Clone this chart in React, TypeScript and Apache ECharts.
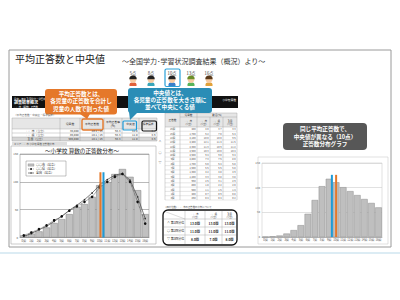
import React, { useEffect, useRef } from 'react';
import * as echarts from 'echarts';

const FONT = '"Noto Sans CJK JP", "Noto Sans", sans-serif';

// ---------- data ----------
const categories = ['0問', '1問', '2問', '3問', '4問', '5問', '6問', '7問', '8問', '9問', '10問', '11問', '12問', '13問', '14問', '15問', '16問'];
const cityCounts = [4, 7, 11, 18, 26, 33, 42, 55, 60, 73, 94, 100, 114, 123, 109, 85, 42];
const prefValues = [4, 9, 15, 22, 31, 38, 48, 56, 64, 73, 90, 100, 109, 114, 100, 64, 25];
const nationValues = [2, 7, 14, 20, 29, 38, 49, 58, 68, 80, 94, 104, 112, 115, 103, 73, 34];
const compareCounts = [0.5, 1.5, 3, 7, 14, 24, 47, 75, 103, 118, 111, 101, 93, 85, 77, 69, 60];
const leftMean = 10.6;
const leftMedian = 11.0;
const leftMarkTop = 117;
const rightMean = 10.5;
const rightMedian = 9.9;
const rightMarkTop = 126;

const scoreLabels = ['5点', '8点', '10点', '13点', '16点'];

const summaryHeaders = ['児童数', '平均正答数', '平均正答率\n(%)', '中央値', '標準偏差'];
const summaryRows = [
  ['○○市（公立）', '35,000', '10.1 / 16', '63.3', '11.0', '3.7'],
  ['○○県（公立）', '85,000', '10.1 / 16', '63.3', '11.0', '3.6'],
  ['全国（公立）', '985,000', '10.1 / 16', '63.3', '11.0', '3.6'],
];

const distLabels = ['16問', '15問', '14問', '13問', '12問', '11問', '10問', '9問', '8問', '7問', '6問', '5問', '4問', '3問', '2問', '1問', '0問'];
const distCounts = ['400', '1,700', '2,100', '2,400', '2,300', '2,500', '2,500', '2,800', '1,700', '1,500', '1,300', '1,200', '950', '800', '600', '400', '250'];
const distCity = ['4.0', '6.2', '10.0', '12.1', '11.3', '10.3', '9.4', '7.3', '6.0', '5.5', '4.2', '3.3', '2.6', '1.8', '1.1', '0.7', '0.4'];
const distPref = ['3.7', '7.0', '10.0', '11.4', '10.9', '10.0', '9.0', '7.6', '6.4', '5.6', '4.8', '3.8', '3.1', '2.2', '1.5', '0.9', '0.4'];
const distNation = ['3.3', '6.4', '9.6', '11.5', '11.2', '10.4', '9.4', '8.0', '6.8', '5.8', '4.9', '3.8', '2.9', '2.0', '1.4', '0.8', '0.2'];

const quartileLabels = ['∧ 第1四分位', '○ 第2四分位', '▽ 第3四分位'];
const quartileCity = ['13.0問', '11.0問', '8.0問'];
const quartilePref = ['13.0問', '11.0問', '7.0問'];
const quartileNation = ['13.0問', '11.0問', '8.0問'];

// ---------- helpers ----------
const ORANGE = '#e5782a';
const BLUE = '#1e9bd7';
const TEAL = '#2b8db6';

function txt(text: string, x: number, y: number, size: number, o: any = {}) {
  return {
    type: 'text',
    x,
    y,
    silent: true,
    z: o.z ?? 20,
    style: {
      text,
      fill: o.fill ?? '#222',
      fontSize: size,
      fontFamily: FONT,
      fontWeight: o.bold ? 'bold' : 'normal',
      textAlign: o.align ?? 'left',
      textVerticalAlign: 'middle',
      lineHeight: o.lh ?? size * 1.1,
    },
  };
}
function rect(x: number, y: number, w: number, h: number, style: any, r: any = 0, z = 5) {
  return { type: 'rect', silent: true, z, shape: { x, y, width: w, height: h, r }, style };
}
function line(x1: number, y1: number, x2: number, y2: number, stroke: string, lw = 0.4, z = 6, dash?: any) {
  return { type: 'line', silent: true, z, shape: { x1, y1, x2, y2 }, style: { stroke, lineWidth: lw, lineDash: dash } };
}

function buildGraphics() {
  const G: any[] = [];
  // slide frame and lines
  G.push(rect(9, 50, 382, 197, { fill: 'none', stroke: '#9a9a9a', lineWidth: 1 }, 0, 1));
  G.push(line(0, 253, 400, 253, '#b9d9ea', 1.2, 1));

  // titles
  G.push(txt('平均正答数と中央値', 15, 58, 10, { fill: '#222' }));
  G.push(txt('～全国学力･学習状況調査結果（概況）より～', 122, 60.5, 7, { fill: '#333' }));

  // kids
  const kx = [133, 151, 172, 191, 209];
  const hair = ['#222', '#222', '#222', '#6a8f2a', '#5a3a1a'];
  const shirt = ['#e0603a', '#3aa6b9', '#3a7fc9', '#58b45a', '#e2a23a'];
  kx.forEach((x, i) => {
    G.push(txt(scoreLabels[i], x, 72.5, 4.2, { align: 'center', fill: '#333' }));
    G.push({ type: 'rect', silent: true, z: 8, shape: { x: x - 3.5, y: 82.5, width: 7, height: 3.5, r: [2, 2, 0, 0] }, style: { fill: shirt[i] } });
    G.push({ type: 'circle', silent: true, z: 9, shape: { cx: x, cy: 79.5, r: 3.4 }, style: { fill: '#f6cba3' } });
    G.push({ type: 'sector', silent: true, z: 10, shape: { cx: x, cy: 79.3, r: 3.7, r0: 0, startAngle: Math.PI, endAngle: Math.PI * 2 }, style: { fill: hair[i] } });
    G.push({ type: 'circle', silent: true, z: 11, shape: { cx: x - 1.2, cy: 80.2, r: 0.4 }, style: { fill: '#222' } });
    G.push({ type: 'circle', silent: true, z: 11, shape: { cx: x + 1.2, cy: 80.2, r: 0.4 }, style: { fill: '#222' } });
  });
  G.push(rect(165, 69, 15, 17.5, { fill: 'none', stroke: '#29a0d8', lineWidth: 1.2 }, 1.5, 12));

  // black header strip
  G.push(rect(12, 96, 226, 12, { fill: '#111' }, 0, 3));
  G.push(txt('令和○年度 全国学力・学習状況調査', 14, 98.3, 2.4, { fill: '#fff', z: 4 }));
  G.push(txt('調査結果概況', 14, 102.3, 4, { fill: '#fff', bold: true, z: 4 }));
  G.push(txt('○○市（算数）正答数', 14, 106.3, 2.4, { fill: '#fff', z: 4 }));
  G.push(txt('小学校 算数', 236, 100, 2.6, { fill: '#fff', align: 'right', z: 4 }));
  G.push(txt('〈平均正答数・中央値・標準偏差〉', 14, 114.5, 2.6, { fill: '#666' }));

  // left summary table
  const cols = [12, 60, 80, 104, 122, 139, 157];
  const rowsY = [118, 129, 133, 137, 141];
  G.push(rect(12, 118, 145, 11, { fill: '#e6e6e6' }, 0, 4));
  G.push(rect(12, 137, 145, 4, { fill: '#d6d6d6' }, 0, 4));
  rowsY.forEach((y) => G.push(line(12, y, 157, y, '#999', 0.4)));
  cols.forEach((x) => G.push(line(x, 118, x, 141, '#999', 0.4)));
  summaryHeaders.forEach((h, i) => {
    G.push(txt(h, (cols[i + 1] + cols[i + 2]) / 2, 124, 2.8, { align: 'center', fill: '#333' }));
  });
  summaryRows.forEach((row, r) => {
    const cy = (rowsY[r + 1] + rowsY[r + 2]) / 2;
    row.forEach((v, c) => {
      if (c === 0) G.push(txt(v, 36, cy, 2.8, { align: 'center', fill: '#333' }));
      else G.push(txt(v, cols[c + 1] - 1.5, cy, 2.8, { align: 'right', fill: '#333' }));
    });
  });
  G.push(rect(12, 142, 55, 3.6, { fill: '#dedede' }, 0, 4));
  G.push(txt('エリア ○○市 小学校 算数 正答数分布', 14, 143.8, 2.4, { fill: '#555' }));
  // highlight boxes
  G.push(rect(82, 119, 21, 11, { fill: 'none', stroke: ORANGE, lineWidth: 1.4 }, 1.5, 15));
  G.push(rect(123, 121, 13.5, 9, { fill: 'none', stroke: BLUE, lineWidth: 1.2 }, 1, 15));
  G.push(rect(142, 121, 14.5, 10, { fill: 'none', stroke: '#111', lineWidth: 1.2 }, 1.5, 15));

  // callouts
  G.push(rect(45, 89, 72, 25.5, { fill: ORANGE }, 3, 16));
  G.push({ type: 'polygon', silent: true, z: 16, shape: { points: [[80, 114], [90, 114], [87, 119]] }, style: { fill: ORANGE } });
  G.push(txt('平均正答数とは、', 81, 93.5, 5.6, { fill: '#fff', bold: true, align: 'center', z: 17 }));
  G.push(txt('各児童の正答数を合計し', 81, 101.3, 5.6, { fill: '#fff', bold: true, align: 'center', z: 17 }));
  G.push(txt('児童の人数で割った値', 81, 108.8, 5.6, { fill: '#fff', bold: true, align: 'center', z: 17 }));

  G.push(rect(128, 88, 84, 25, { fill: TEAL }, 3, 16));
  G.push({ type: 'polygon', silent: true, z: 16, shape: { points: [[129, 112], [138, 112], [130, 120]] }, style: { fill: TEAL } });
  G.push(txt('中央値とは、', 170, 92.8, 5.6, { fill: '#fff', bold: true, align: 'center', z: 17 }));
  G.push(txt('各児童の正答数を大きさ順に', 170, 100, 5.6, { fill: '#fff', bold: true, align: 'center', z: 17 }));
  G.push(txt('並べて中央にくる値', 170, 107.2, 5.6, { fill: '#fff', bold: true, align: 'center', z: 17 }));

  // middle distribution table
  const mc = [165, 180, 197, 210, 223, 237];
  const top = 113, hdr = 127, bottom = 200;
  const rh = (bottom - hdr) / distLabels.length;
  G.push(rect(165, top, 72, hdr - top, { fill: '#e6e6e6' }, 0, 4));
  G.push(line(165, top, 237, top, '#999', 0.4));
  G.push(line(180, 117, 237, 117, '#999', 0.4));
  G.push(line(165, hdr, 237, hdr, '#999', 0.4));
  mc.forEach((x, i) => G.push(line(x, i === 3 || i === 4 ? 117 : top, x, bottom, '#999', 0.4)));
  G.push(txt('正答数', 172.5, 120, 2.6, { align: 'center', fill: '#333' }));
  G.push(txt('児童数', 188.5, 115, 2.6, { align: 'center', fill: '#333' }));
  G.push(txt('割合(%)', 217, 115, 2.6, { align: 'center', fill: '#333' }));
  const subs = ['○○市\n(公立)', '○○市\n(公立)', '○○県\n(公立)', '全国\n(公立)'];
  subs.forEach((s, i) => G.push(txt(s, (mc[i + 1] + mc[i + 2]) / 2, 122.3, 2.3, { align: 'center', fill: '#333' })));
  distLabels.forEach((lab, i) => {
    const y0 = hdr + rh * (i + 1);
    const cy = hdr + rh * (i + 0.5);
    G.push(line(165, y0, 237, y0, '#aaa', 0.3));
    G.push(txt(lab, 172.5, cy, 2.4, { align: 'center', fill: '#444' }));
    G.push(txt(distCounts[i], 195.5, cy, 2.4, { align: 'right', fill: '#444' }));
    G.push(txt(distCity[i], 208.5, cy, 2.4, { align: 'right', fill: '#444' }));
    G.push(txt(distPref[i], 221.5, cy, 2.4, { align: 'right', fill: '#444' }));
    G.push(txt(distNation[i], 235.5, cy, 2.4, { align: 'right', fill: '#444' }));
  });
  G.push(txt('∧', 160, 142, 3, { align: 'center', fill: '#444' }));
  G.push(txt('○', 160, 153, 3, { align: 'center', fill: '#444' }));
  G.push(txt('▽', 160, 163, 3, { align: 'center', fill: '#444' }));

  // quartile box
  G.push(txt('〈四分位数〉○○市の正答数の分布について', 164, 206.5, 2.4, { fill: '#555' }));
  G.push(rect(163, 210, 74, 35, { fill: '#fff', stroke: '#111', lineWidth: 1.3 }, 5, 6));
  G.push(line(165, 211.5, 185, 219, '#888', 0.3, 7));
  [219, 227, 235].forEach((y) => G.push(line(164, y, 236, y, '#999', 0.4, 7)));
  [185, 205, 222].forEach((x) => G.push(line(x, 211, x, 244, '#999', 0.4, 7)));
  ['○○市\n(公立)', '○○県\n(公立)', '全国\n(公立)'].forEach((s, i) =>
    G.push(txt(s, [195, 213.5, 229.5][i], 215, 2.3, { align: 'center', fill: '#333' }))
  );
  quartileLabels.forEach((lab, i) => {
    const cy = 223 + i * 8;
    G.push(txt(lab, 167, cy, 3, { fill: '#222' }));
    G.push(txt(quartileCity[i], 195, cy, 3.2, { align: 'center', bold: true }));
    G.push(txt(quartilePref[i], 213.5, cy, 3.2, { align: 'center', bold: true }));
    G.push(txt(quartileNation[i], 229.5, cy, 3.2, { align: 'center', bold: true }));
  });

  // left chart panel
  G.push(rect(11, 146, 145, 98, { fill: 'none', stroke: '#aaa', lineWidth: 0.6 }, 0, 2));
  G.push(txt('～小学校 算数の正答数分布～', 82, 150.5, 5.6, { align: 'center', fill: '#222' }));
  // legend
  G.push(rect(26, 161, 40, 15, { fill: '#fff', stroke: '#666', lineWidth: 0.4 }, 0, 30));
  G.push(rect(28, 163.8, 6, 2.4, { fill: '#c0c0c0', stroke: '#777', lineWidth: 0.3 }, 0, 31));
  G.push(txt('○○市（公立）', 36, 165, 3, { fill: '#222', z: 31 }));
  G.push(line(28, 169, 34, 169, '#333', 0.6, 31, [0.8, 0.8]));
  G.push({ type: 'circle', silent: true, z: 32, shape: { cx: 31, cy: 169, r: 0.9 }, style: { fill: '#111' } });
  G.push(txt('○○県（公立）', 36, 169, 3, { fill: '#222', z: 31 }));
  G.push(line(28, 173, 34, 173, '#333', 0.6, 31));
  G.push({ type: 'circle', silent: true, z: 32, shape: { cx: 31, cy: 173, r: 0.6 }, style: { fill: '#111' } });
  G.push(txt('全国（公立）', 36, 173, 3, { fill: '#222', z: 31 }));

  // right callout and panel
  G.push(rect(283, 123, 84, 27, { fill: '#575757' }, 4, 16));
  G.push(txt('同じ平均正答数で、', 325, 129, 5.6, { fill: '#fff', bold: true, align: 'center', z: 17 }));
  G.push(txt('中央値が異なる（10点）', 325, 136.5, 5.6, { fill: '#fff', bold: true, align: 'center', z: 17 }));
  G.push(txt('正答数分布グラフ', 325, 144, 5.6, { fill: '#fff', bold: true, align: 'center', z: 17 }));
  G.push(rect(258, 157, 130, 87, { fill: 'none', stroke: '#ccc', lineWidth: 0.6 }, 0, 2));
  return G;
}

function xCat(gridIndex: number) {
  return {
    type: 'category',
    gridIndex,
    data: categories,
    axisTick: { show: false },
    axisLine: { lineStyle: { color: '#999', width: 0.6 } },
    axisLabel: { fontSize: 2.8, color: '#555', interval: 0, margin: 2, fontFamily: FONT },
  };
}
function yVal(gridIndex: number, split: string) {
  return {
    type: 'value',
    gridIndex,
    min: 0,
    max: 150,
    interval: 50,
    axisLine: { show: false },
    axisTick: { show: false },
    axisLabel: { fontSize: 2.8, color: '#555', margin: 2, fontFamily: FONT },
    splitLine: { lineStyle: { color: split, width: 0.6 } },
  };
}
function vline(xAxisIndex: number, yAxisIndex: number, x: number, top: number, color: string) {
  return {
    type: 'line',
    xAxisIndex,
    yAxisIndex,
    data: [[x, 0], [x, top]],
    symbol: 'none',
    lineStyle: { color, width: 2 },
    z: 6,
    silent: true,
  };
}

export default function App() {
  const ref = useRef<HTMLDivElement>(null);
  useEffect(() => {
    if (!ref.current) return;
    const chart = echarts.init(ref.current, null, { renderer: 'svg' });
    chart.setOption({
      animation: false,
      backgroundColor: '#ffffff',
      textStyle: { fontFamily: FONT },
      grid: [
        { left: 20, top: 154, width: 129, height: 83.5, show: true, borderColor: '#999', borderWidth: 0.6, backgroundColor: '#fff' },
        { left: 262, top: 163, width: 120, height: 74, show: true, borderColor: '#ccc', borderWidth: 0.6, backgroundColor: '#fff' },
      ],
      xAxis: [
        xCat(0),
        { type: 'value', gridIndex: 0, min: 0, max: 17, show: false },
        xCat(1),
        { type: 'value', gridIndex: 1, min: 0, max: 17, show: false },
      ],
      yAxis: [yVal(0, '#8c8c8c'), yVal(1, '#cccccc')],
      series: [
        {
          type: 'bar',
          xAxisIndex: 0,
          yAxisIndex: 0,
          data: cityCounts,
          barCategoryGap: '6%',
          itemStyle: { color: '#c0c0c0', borderColor: '#7f7f7f', borderWidth: 0.5 },
          silent: true,
        },
        {
          type: 'line',
          xAxisIndex: 0,
          yAxisIndex: 0,
          data: nationValues,
          symbol: 'circle',
          symbolSize: 1.6,
          itemStyle: { color: '#333' },
          lineStyle: { color: '#444', width: 0.7 },
          silent: true,
          z: 4,
        },
        {
          type: 'line',
          xAxisIndex: 0,
          yAxisIndex: 0,
          data: prefValues,
          symbol: 'circle',
          symbolSize: 2.6,
          itemStyle: { color: '#111' },
          lineStyle: { color: '#333', width: 0.7, type: 'dotted' },
          silent: true,
          z: 5,
        },
        vline(1, 0, leftMean, leftMarkTop, ORANGE),
        vline(1, 0, leftMedian, leftMarkTop, BLUE),
        {
          type: 'bar',
          xAxisIndex: 2,
          yAxisIndex: 1,
          data: compareCounts,
          barCategoryGap: '6%',
          itemStyle: { color: '#bfbfbf', borderColor: '#8c8c8c', borderWidth: 0.5 },
          silent: true,
        },
        vline(3, 1, rightMedian, rightMarkTop, BLUE),
        vline(3, 1, rightMean, rightMarkTop, ORANGE),
      ],
      graphic: { elements: buildGraphics() },
    });
    return () => chart.dispose();
  }, []);
  return <div ref={ref} style={{ position: 'fixed', left: 0, top: 0, width: 400, height: 300 }} />;
}
